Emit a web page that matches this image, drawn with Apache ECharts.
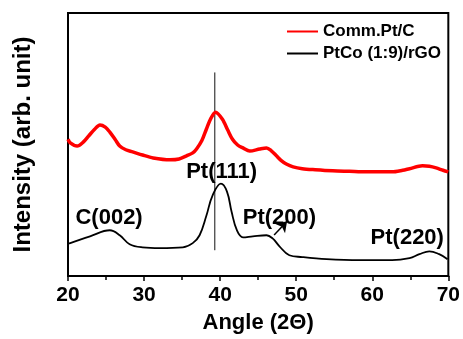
<!DOCTYPE html>
<html>
<head>
<meta charset="utf-8">
<script src="https://cdn.jsdelivr.net/npm/echarts@6/dist/echarts.min.js"></script>
<style>
html,body{margin:0;padding:0;background:#fff;}
#chart{width:463px;height:339px;}
</style>
</head>
<body>
<div id="chart"></div>
<script>
const xTicks = [20, 30, 40, 50, 60, 70];
const seriesNames = ['Comm.Pt/C', 'PtCo (1:9)/rGO'];
const commPtC = [
  [20.0, 52.0], [20.3, 50.6], [21.2, 49.4], [22.0, 50.9], [22.7, 53.2], [23.5, 55.8],
  [24.2, 57.4], [24.9, 56.6], [25.5, 54.7], [26.2, 51.9], [26.8, 49.4], [27.6, 48.0],
  [28.5, 47.2], [29.8, 46.0], [31.2, 44.9], [33.4, 44.2], [34.6, 44.5], [35.6, 45.7],
  [36.4, 46.8], [36.9, 48.3], [37.6, 51.5], [38.2, 55.9], [38.8, 60.0], [39.4, 62.3],
  [40.3, 59.6], [41.0, 55.5], [41.6, 52.1], [42.3, 49.8], [43.0, 48.7], [43.9, 47.5],
  [45.2, 48.3], [46.1, 48.7], [46.7, 47.7], [47.4, 45.7], [48.0, 44.0], [48.7, 42.6],
  [49.6, 41.5], [50.8, 40.8], [52.5, 40.4], [54.8, 40.0], [57.0, 39.8], [59.2, 39.6],
  [62.6, 39.6], [64.0, 40.2], [64.9, 40.8], [66.6, 41.9], [67.5, 41.7], [68.4, 41.1],
  [69.3, 40.2], [70.0, 39.6]
];
const ptCoRGO = [
  [20.0, 12.3], [20.3, 12.5], [22.9, 15.1], [25.5, 17.4], [26.8, 15.5], [28.1, 12.1],
  [29.8, 10.9], [32.1, 10.6], [35.1, 10.9], [36.4, 12.5], [37.3, 15.5], [38.2, 23.0],
  [39.0, 30.6], [40.1, 35.1], [40.9, 32.1], [41.5, 24.5], [42.2, 17.4], [43.0, 14.7],
  [44.3, 15.1], [46.1, 15.5], [46.9, 14.3], [47.8, 11.3], [49.1, 7.9], [50.8, 7.2],
  [54.0, 6.4], [58.3, 6.0], [62.6, 6.0], [64.9, 6.8], [66.2, 8.3], [67.5, 9.4],
  [68.8, 8.3], [69.9, 6.4]
];
const refLine = [[39.3, 9.8], [39.3, 77.4]];
const peakLabels = [
  {name: 'C(002)', value: [25.4, 21.9]},
  {name: 'Pt(111)', value: [40.2, 39.6]},
  {name: 'Pt(200)', value: [47.8, 22.2]},
  {name: 'Pt(220)', value: [64.6, 14.5]}
];
const arrowFrom = [47.1, 15.6];
const arrowTo = [48.8, 20.8];

const FONT = '"Liberation Sans", Arial, sans-serif';
const LINE_ICON = 'path://M0,0L31,0L31,2L0,2Z';
const chart = echarts.init(document.getElementById('chart'), null, {renderer: 'canvas'});
chart.setOption({
  animation: false,
  backgroundColor: '#fff',
  grid: {left: 68, right: 14, top: 13, bottom: 61, show: true, borderColor: '#000', borderWidth: 2, containLabel: false},
  legend: {
    orient: 'vertical', left: 282, top: 18, itemWidth: 31, itemHeight: 17, itemGap: 5,
    textStyle: {fontFamily: FONT, fontWeight: 'bold', fontSize: 17, color: '#000'},
    data: [
      {name: seriesNames[0], icon: LINE_ICON, itemStyle: {color: '#ff0000'}},
      {name: seriesNames[1], icon: LINE_ICON, itemStyle: {color: '#000'}}
    ]
  },
  xAxis: {
    type: 'value', min: xTicks[0], max: xTicks[xTicks.length - 1], interval: 10,
    name: 'Angle (2\u0398)', nameLocation: 'middle', nameGap: 36,
    nameTextStyle: {fontFamily: FONT, fontWeight: 'bold', fontSize: 22, color: '#000'},
    axisLine: {lineStyle: {color: '#000', width: 2}},
    axisTick: {show: true, inside: false, length: 5, lineStyle: {color: '#000', width: 1.5}},
    minorTick: {show: true, splitNumber: 2, length: 4, lineStyle: {color: '#000', width: 1.5}},
    axisLabel: {fontFamily: FONT, fontWeight: 'bold', fontSize: 21, color: '#000', margin: 9},
    splitLine: {show: false}
  },
  yAxis: {
    type: 'value', min: 0, max: 100,
    name: 'Intensity (arb. unit)', nameLocation: 'middle', nameGap: 33,
    nameTextStyle: {fontFamily: FONT, fontWeight: 'bold', fontSize: 24, color: '#000'},
    axisLine: {show: true, lineStyle: {color: '#000', width: 2}},
    axisTick: {show: false}, axisLabel: {show: false}, splitLine: {show: false}
  },
  series: [
    {
      name: seriesNames[0], type: 'line', data: commPtC, symbol: 'none', showSymbol: false, smooth: 0.3,
      lineStyle: {color: '#ff0000', width: 3.5}, itemStyle: {color: '#ff0000'}, z: 3
    },
    {
      name: seriesNames[1], type: 'line', data: ptCoRGO, symbol: 'none', showSymbol: false, smooth: 0.4,
      lineStyle: {color: '#000', width: 1.8}, itemStyle: {color: '#000'}, z: 3,
      markLine: {
        silent: true, symbol: ['none', 'arrow'], symbolSize: 10,
        lineStyle: {color: '#000', width: 1.5, type: 'solid'}, label: {show: false},
        data: [[{coord: arrowFrom}, {coord: arrowTo}]]
      }
    },
    {
      name: 'ref', type: 'line', data: refLine, symbol: 'none',
      lineStyle: {color: '#111', width: 1}, z: 2
    },
    {
      name: 'labels', type: 'scatter', data: peakLabels, symbolSize: 0,
      itemStyle: {opacity: 1, color: '#000'},
      label: {show: true, position: 'inside', formatter: p => p.name,
        fontFamily: FONT, fontWeight: 'bold', fontSize: 22, color: '#000'},
      z: 5
    }
  ]
});
</script>
</body>
</html>
